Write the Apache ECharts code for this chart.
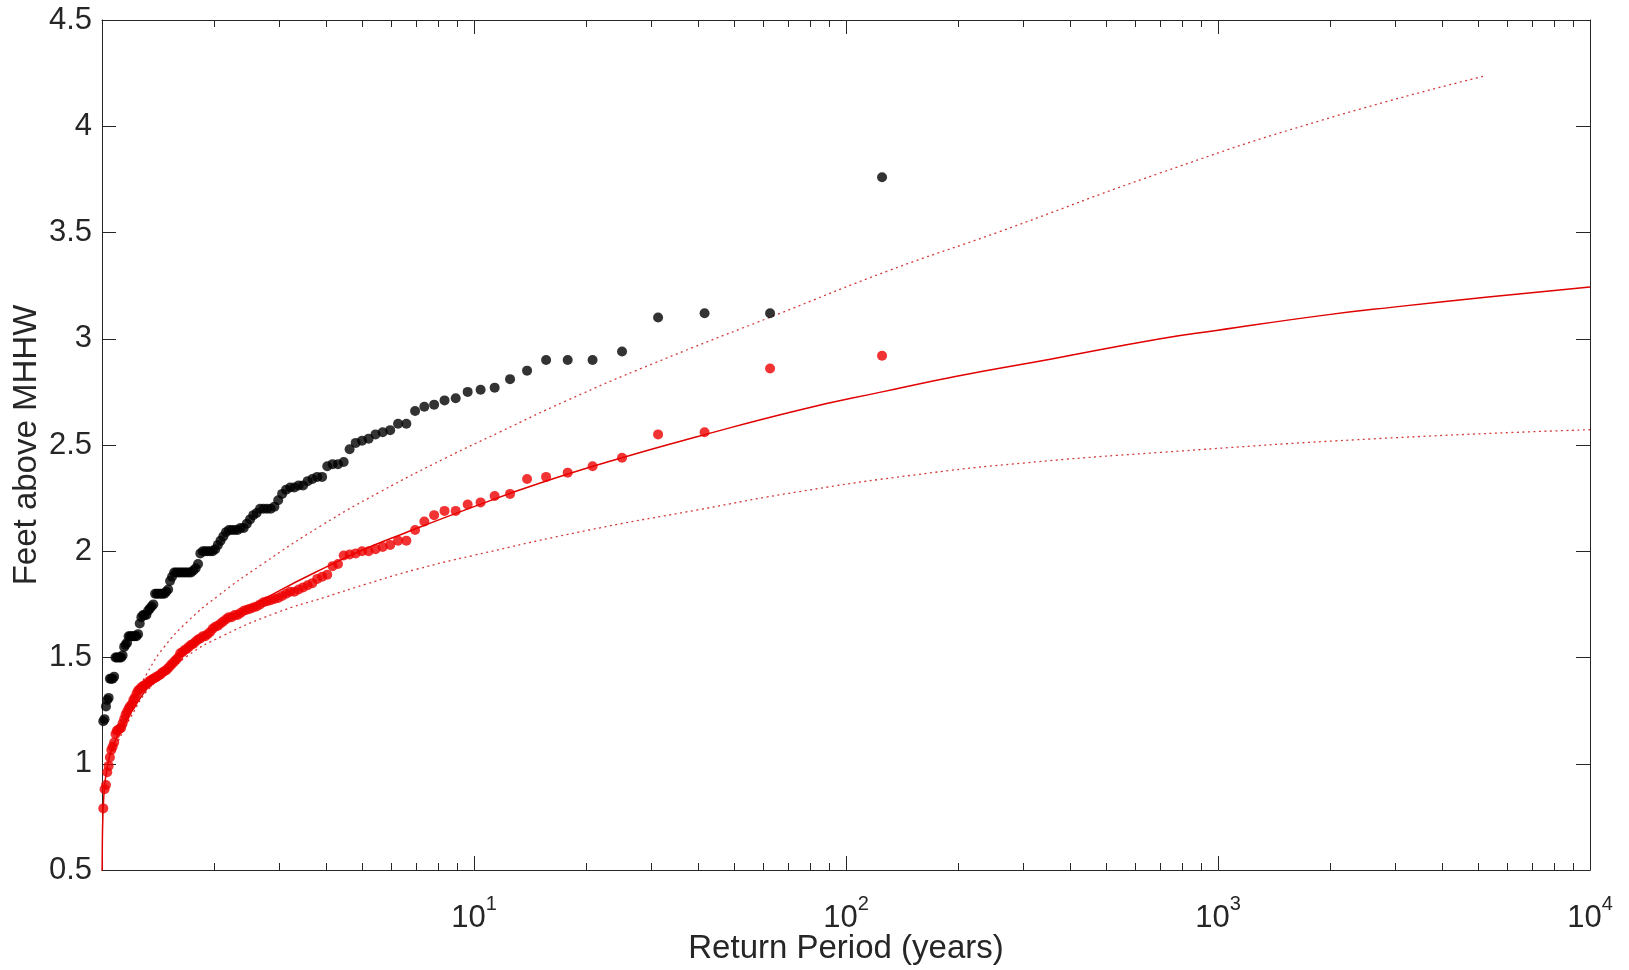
<!DOCTYPE html>
<html><head><meta charset="utf-8">
<script src="https://cdn.jsdelivr.net/npm/echarts@6/dist/echarts.min.js"></script>
<style>html,body{margin:0;padding:0;background:#fff}#c{width:1629px;height:970px}</style>
</head><body><div id="c"></div>
<script>
// Return periods (years) of ranked annual maxima
const returnPeriod = [
  125, 62.5, 41.667, 31.25, 25, 20.833, 17.857, 15.625, 13.889, 12.5,
  11.364, 10.417, 9.615, 8.929, 8.333, 7.813, 7.353, 6.944, 6.579, 6.25,
  5.952, 5.682, 5.435, 5.208, 5, 4.808, 4.63, 4.464, 4.31, 4.167,
  4.032, 3.906, 3.788, 3.676, 3.571, 3.472, 3.378, 3.289, 3.205, 3.125,
  3.049, 2.976, 2.907, 2.841, 2.778, 2.717, 2.66, 2.604, 2.551, 2.5,
  2.451, 2.404, 2.358, 2.315, 2.273, 2.232, 2.193, 2.155, 2.119, 2.083,
  2.049, 2.016, 1.984, 1.953, 1.923, 1.894, 1.866, 1.838, 1.812, 1.786,
  1.761, 1.736, 1.712, 1.689, 1.667, 1.645, 1.623, 1.603, 1.582, 1.563,
  1.543, 1.524, 1.506, 1.488, 1.471, 1.453, 1.437, 1.42, 1.404, 1.389,
  1.374, 1.359, 1.344, 1.33, 1.316, 1.302, 1.289, 1.276, 1.263, 1.25,
  1.238, 1.225, 1.214, 1.202, 1.19, 1.179, 1.168, 1.157, 1.147, 1.136,
  1.126, 1.116, 1.106, 1.096, 1.087, 1.078, 1.068, 1.059, 1.05, 1.042,
  1.033, 1.025, 1.016, 1.008
];
// Black points (feet above MHHW)
const blackLevels = [
  3.76, 3.12, 3.12, 3.10, 2.94, 2.90, 2.90, 2.90, 2.85, 2.81,
  2.77, 2.76, 2.75, 2.72, 2.71, 2.69, 2.68, 2.66, 2.60, 2.60,
  2.57, 2.56, 2.55, 2.53, 2.52, 2.51, 2.48, 2.42, 2.41, 2.41,
  2.40, 2.35, 2.35, 2.34, 2.33, 2.31, 2.31, 2.30, 2.30, 2.29,
  2.27, 2.24, 2.21, 2.20, 2.20, 2.20, 2.20, 2.18, 2.17, 2.15,
  2.13, 2.11, 2.11, 2.10, 2.10, 2.10, 2.10, 2.09, 2.07, 2.05,
  2.03, 2.01, 2.00, 2.00, 2.00, 2.00, 2.00, 1.99, 1.94, 1.92,
  1.91, 1.90, 1.90, 1.90, 1.90, 1.90, 1.90, 1.90, 1.90, 1.90,
  1.88, 1.86, 1.82, 1.81, 1.80, 1.80, 1.80, 1.80, 1.80, 1.80,
  1.75, 1.74, 1.73, 1.72, 1.70, 1.70, 1.70, 1.69, 1.66, 1.61,
  1.60, 1.60, 1.60, 1.60, 1.60, 1.60, 1.57, 1.56, 1.55, 1.51,
  1.50, 1.50, 1.50, 1.50, 1.50, 1.41, 1.40, 1.40, 1.40, 1.31,
  1.30, 1.27, 1.21, 1.20
];
// Red points (feet above MHHW)
const redLevels = [
  2.92, 2.86, 2.56, 2.55, 2.44, 2.40, 2.37, 2.35, 2.34, 2.27,
  2.26, 2.23, 2.22, 2.19, 2.19, 2.17, 2.14, 2.10, 2.05, 2.05,
  2.03, 2.02, 2.01, 2.00, 2.00, 1.99, 1.985, 1.98, 1.94, 1.93,
  1.89, 1.88, 1.87, 1.85, 1.84, 1.83, 1.82, 1.81, 1.81, 1.80,
  1.79, 1.78, 1.775, 1.77, 1.765, 1.76, 1.75, 1.74, 1.735, 1.73,
  1.725, 1.72, 1.71, 1.70, 1.70, 1.69, 1.69, 1.68, 1.67, 1.66,
  1.65, 1.645, 1.635, 1.62, 1.61, 1.60, 1.60, 1.59, 1.585, 1.575,
  1.565, 1.56, 1.55, 1.54, 1.535, 1.525, 1.52, 1.50, 1.49, 1.48,
  1.47, 1.46, 1.45, 1.44, 1.435, 1.43, 1.42, 1.415, 1.41, 1.405,
  1.40, 1.395, 1.39, 1.38, 1.375, 1.37, 1.365, 1.36, 1.35, 1.345,
  1.33, 1.31, 1.30, 1.28, 1.27, 1.26, 1.245, 1.23, 1.21, 1.19,
  1.17, 1.165, 1.16, 1.155, 1.14, 1.10, 1.08, 1.065, 1.03, 0.99,
  0.96, 0.90, 0.88, 0.79
];
// Fitted curve (solid red)
const fitT = [1.0005, 1.002, 1.005, 1.01, 1.02, 1.035, 1.05, 1.075, 1.1, 1.15, 1.2, 1.33, 1.5, 1.7, 2, 2.4, 3, 4, 5, 6.5, 10, 15, 25, 40, 75, 125, 200, 357, 700, 1000, 1914, 3000, 5240, 10000];
const fitLevel = [0.45, 0.62, 0.74, 0.83, 0.92, 0.99, 1.04, 1.09, 1.13, 1.19, 1.245, 1.36, 1.46, 1.55, 1.64, 1.72, 1.815, 1.925, 2.005, 2.085, 2.21, 2.32, 2.44, 2.54, 2.665, 2.75, 2.825, 2.905, 3.00, 3.04, 3.11, 3.15, 3.195, 3.243];
// Upper confidence bound (dotted)
const upperT = [1.05, 1.1, 1.2, 1.326, 1.47, 1.7, 2.05, 2.7, 3.88, 5.6, 8.42, 11.7, 17.8, 30, 66.6, 130, 255, 699, 1914, 5190];
const upperLevel = [1.04, 1.11, 1.28, 1.43, 1.55, 1.67, 1.79, 1.94, 2.12, 2.28, 2.44, 2.56, 2.71, 2.88, 3.12, 3.32, 3.50, 3.78, 4.03, 4.236];
// Lower confidence bound (dotted)
const lowerT = [1.05, 1.1, 1.195, 1.35, 1.69, 2.1, 2.94, 4, 5.12, 7, 9.94, 20.4, 40, 74.5, 154, 300, 699, 2679, 10000];
const lowerLevel = [1.04, 1.10, 1.22, 1.36, 1.505, 1.60, 1.71, 1.785, 1.845, 1.915, 1.98, 2.10, 2.195, 2.28, 2.36, 2.415, 2.465, 2.53, 2.572];
// Axis ticks
const xMajorTicks = [1, 10, 100, 1000, 10000];
const xMinorTicks = [2,3,4,5,6,7,8,9,20,30,40,50,60,70,80,90,200,300,400,500,600,700,800,900,2000,3000,4000,5000,6000,7000,8000,9000];
const xLabelTicks = [10, 100, 1000, 10000];
const xTitle = 'Return Period (years)';
const yTitle = 'Feet above MHHW';

const zip = (a, b) => a.map((v, i) => [v, b[i]]);
const AX = '#262626';
const FONT = 'Liberation Sans, Arial, sans-serif';
const FS = 31;
const TFS = 33;

const baseX = {
  type: 'log', logBase: 10, min: 1, max: 10000, gridIndex: 0,
  splitLine: {show: false}, minorTick: {show: false}, minorSplitLine: {show: false}
};
const chart = echarts.init(document.getElementById('c'), null, {renderer: 'canvas'});
chart.setOption({
  animation: false,
  backgroundColor: '#fff',
  grid: {left: 102, right: 39, top: 20, bottom: 100, containLabel: false, outerBoundsMode: 'none'},
  xAxis: [
    Object.assign({}, baseX, {
      position: 'bottom',
      name: xTitle, nameLocation: 'middle', nameGap: 62, nameMoveOverlap: false,
      nameTextStyle: {fontFamily: FONT, fontSize: TFS, color: AX},
      axisLine: {show: true, lineStyle: {color: AX, width: 1}},
      axisTick: {show: true, inside: true, length: 14, customValues: xMajorTicks, lineStyle: {color: AX}},
      axisLabel: {
        show: true, customValues: xLabelTicks, margin: 24, color: AX,
        fontFamily: FONT, fontSize: FS,
        formatter: v => '{b|10}{s|' + Math.round(Math.log10(v)) + '}',
        rich: {
          b: {fontFamily: FONT, fontSize: FS, color: AX, lineHeight: 40, verticalAlign: 'bottom'},
          s: {fontFamily: FONT, fontSize: 20, color: AX, lineHeight: 40, verticalAlign: 'top'}
        }
      }
    }),
    Object.assign({}, baseX, {
      position: 'bottom',
      axisLine: {show: false},
      axisTick: {show: true, inside: true, length: 7, customValues: xMinorTicks, lineStyle: {color: AX}},
      axisLabel: {show: false}
    }),
    Object.assign({}, baseX, {
      position: 'top',
      axisLine: {show: true, lineStyle: {color: AX, width: 1}},
      axisTick: {show: true, inside: true, length: 14, customValues: xMajorTicks, lineStyle: {color: AX}},
      axisLabel: {show: false}
    }),
    Object.assign({}, baseX, {
      position: 'top',
      axisLine: {show: false},
      axisTick: {show: true, inside: true, length: 7, customValues: xMinorTicks, lineStyle: {color: AX}},
      axisLabel: {show: false}
    })
  ],
  yAxis: [
    {
      type: 'value', min: 0.5, max: 4.5, interval: 0.5, position: 'left',
      name: yTitle, nameLocation: 'middle', nameGap: 59, nameMoveOverlap: false,
      nameTextStyle: {fontFamily: FONT, fontSize: TFS, color: AX},
      splitLine: {show: false},
      axisLine: {show: true, lineStyle: {color: AX, width: 1}},
      axisTick: {show: true, inside: true, length: 14, lineStyle: {color: AX}},
      axisLabel: {show: true, margin: 10, color: AX, fontFamily: FONT, fontSize: FS}
    },
    {
      type: 'value', min: 0.5, max: 4.5, interval: 0.5, position: 'right',
      splitLine: {show: false},
      axisLine: {show: true, lineStyle: {color: AX, width: 1}},
      axisTick: {show: true, inside: true, length: 14, lineStyle: {color: AX}},
      axisLabel: {show: false}
    }
  ],
  series: [
    {
      type: 'line', name: 'upper', data: zip(upperT, upperLevel), xAxisIndex: 0, yAxisIndex: 0,
      showSymbol: false, smooth: 0.5, clip: true, z: 2,
      lineStyle: {color: '#d43a3a', width: 1.3, type: [2, 3.5]}
    },
    {
      type: 'line', name: 'lower', data: zip(lowerT, lowerLevel), xAxisIndex: 0, yAxisIndex: 0,
      showSymbol: false, smooth: 0.5, clip: true, z: 2,
      lineStyle: {color: '#d43a3a', width: 1.3, type: [2, 3.5]}
    },
    {
      type: 'line', name: 'fit', data: zip(fitT, fitLevel), xAxisIndex: 0, yAxisIndex: 0,
      showSymbol: false, smooth: 0.5, clip: true, z: 3,
      lineStyle: {color: '#e00000', width: 1.5}
    },
    {
      type: 'scatter', name: 'observed', data: zip(returnPeriod, blackLevels), xAxisIndex: 0, yAxisIndex: 0,
      symbol: 'circle', symbolSize: 10, z: 4,
      itemStyle: {color: '#000000'}
    },
    {
      type: 'scatter', name: 'adjusted', data: zip(returnPeriod, redLevels), xAxisIndex: 0, yAxisIndex: 0,
      symbol: 'circle', symbolSize: 10, z: 4,
      itemStyle: {color: '#ee0000'}
    }
  ]
});
</script>
</body></html>
